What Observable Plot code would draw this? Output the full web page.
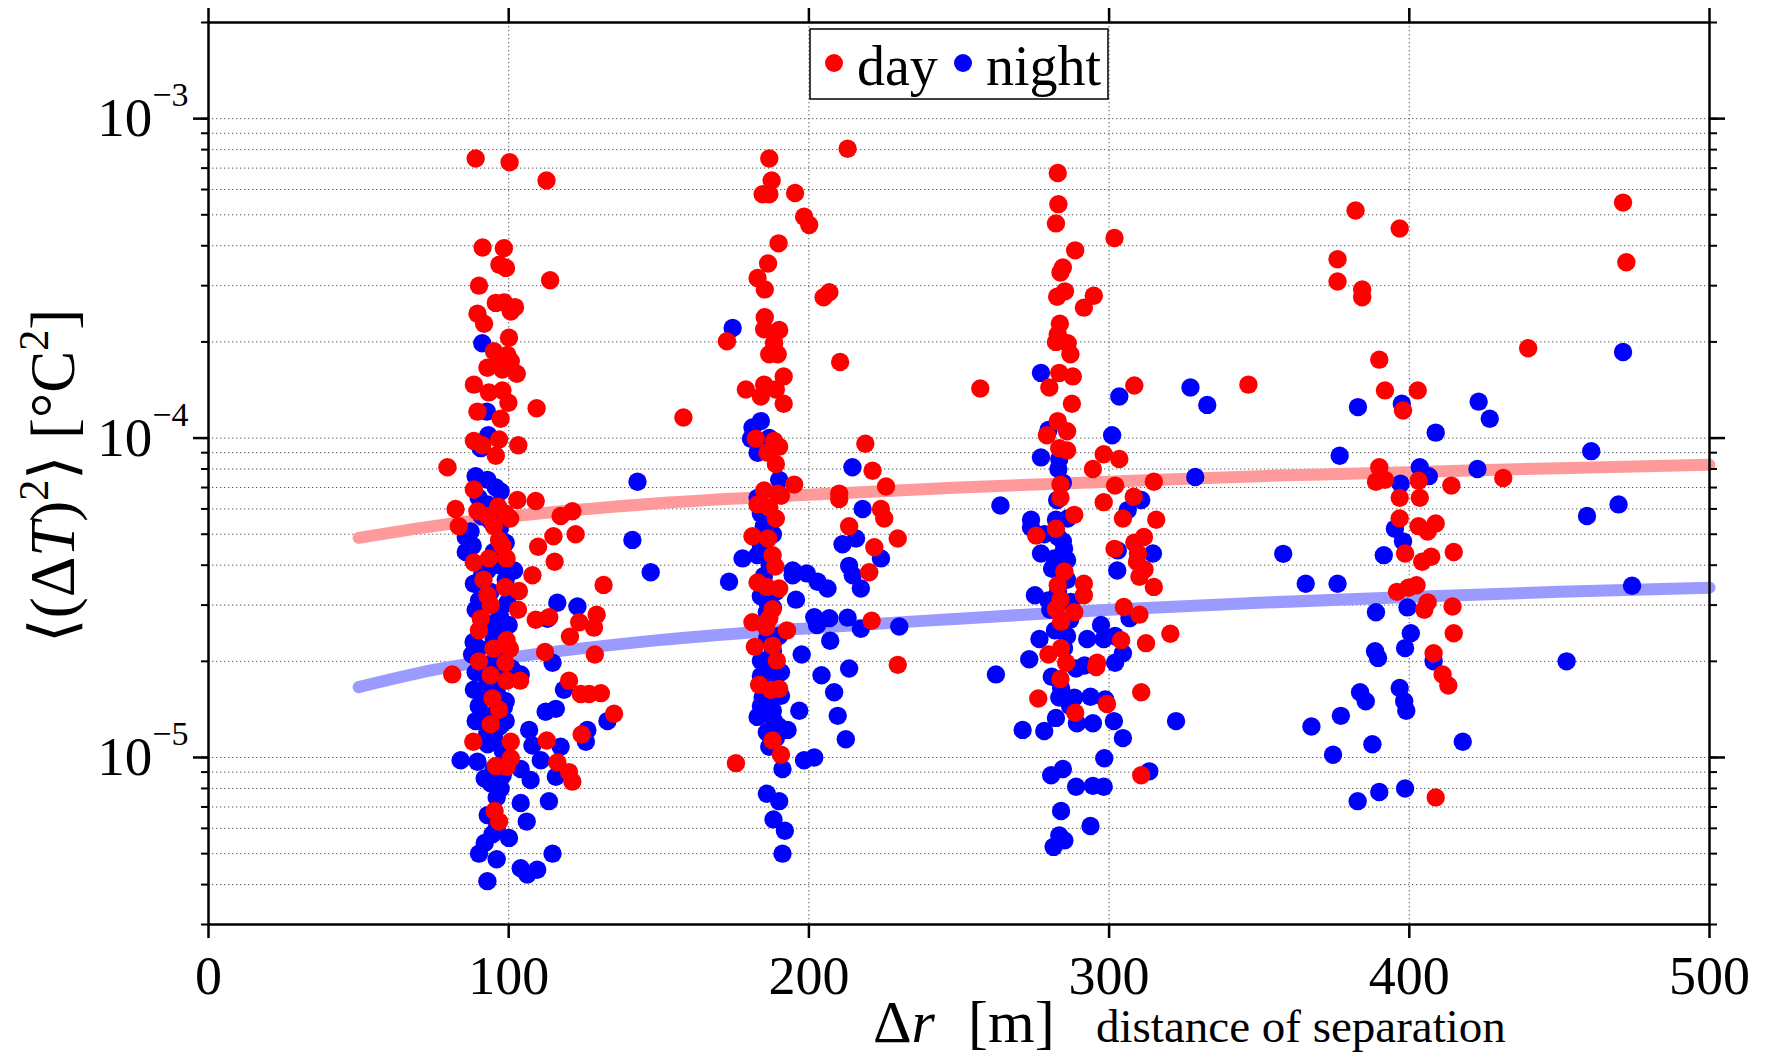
<!DOCTYPE html>
<html><head><meta charset="utf-8">
<script src="https://cdn.jsdelivr.net/npm/d3@7"></script>
<script src="https://cdn.jsdelivr.net/npm/@observablehq/plot@0.6"></script>
<style>
html,body{margin:0;padding:0;background:#fff;}
#chart{position:relative;width:1768px;height:1057px;}
</style></head><body><div id="chart"></div>
<script>
// [distance of separation (m), <(ΔT)^2> (°C^2)]
const day = [
[89,7.5e-4],[100.3,7.3e-4],[112.6,6.4e-4],[91.3,3.95e-4],[98.4,3.93e-4],[96.9,3.49e-4],[99.1,3.41e-4],[113.8,3.12e-4],[90.1,3.0e-4],[95.7,2.65e-4],[98.4,2.66e-4],[102.1,2.57e-4],[100.7,2.49e-4],[89.6,2.45e-4],[91.8,2.28e-4],[100.1,2.06e-4],[95.1,1.87e-4],[99.6,1.82e-4],[96.8,1.74e-4],[100.7,1.74e-4],[92.9,1.66e-4],[97.9,1.64e-4],[102.7,1.59e-4],[88.4,1.47e-4],[93.4,1.39e-4],[97.9,1.41e-4],[99.9,1.29e-4],[109.3,1.24e-4],[89.6,1.21e-4],[97.3,1.15e-4],[88.4,9.8e-5],[96.8,9.9e-5],[91.2,9.5e-5],[103.2,9.5e-5],[95.7,8.8e-5],[79.6,8.1e-5],[88.4,6.9e-5],[102.9,6.4e-5],[109,6.35e-5],[82.3,6.0e-5],[89.6,5.9e-5],[93,5.7e-5],[96.5,6.1e-5],[99,5.8e-5],[100.5,5.6e-5],[121.2,5.9e-5],[117.3,5.7e-5],
[83.4,5.3e-5],[95.1,5.3e-5],[122.3,5.0e-5],[114.9,4.93e-5],[109.8,4.57e-5],[96.8,4.79e-5],[97.9,4.6e-5],[88.4,4.08e-5],[93.4,4.2e-5],[99.3,4.2e-5],[115.3,4.1e-5],[107.9,3.72e-5],[91.6,3.6e-5],[131.6,3.47e-5],[98.8,3.41e-5],[103.4,3.32e-5],[92.9,3.22e-5],[94,3.0e-5],[103.1,2.9e-5],[90.7,2.72e-5],[90.1,2.5e-5],[109,2.7e-5],[113.5,2.75e-5],[123.5,2.65e-5],[129.3,2.8e-5],[128.4,2.55e-5],[120.4,2.39e-5],[99.3,2.33e-5],[94.9,2.19e-5],[100.4,2.19e-5],[112.1,2.14e-5],[128.7,2.1e-5],[90.1,2.0e-5],[98.9,1.98e-5],[81.2,1.82e-5],[94,1.81e-5],[99.3,1.74e-5],[103.8,1.74e-5],[120.1,1.74e-5],[124,1.58e-5],[126.8,1.58e-5],[130.7,1.59e-5],[94.6,1.53e-5],[96.8,1.41e-5],[135.1,1.37e-5],[94,1.27e-5],[124.3,1.18e-5],[88.2,1.12e-5],[100.7,1.12e-5],[112.7,1.13e-5],[116.2,9.65e-6],[95.7,9.4e-6],[99.3,9.35e-6],[100.7,9.95e-6],[120.1,9.0e-6],[121.2,8.4e-6],[95.3,6.8e-6],[96.8,6.3e-6],
[212.9,8.05e-4],[186.8,7.5e-4],[187.6,6.4e-4],[184.6,5.8e-4],[186.8,5.8e-4],[195.4,5.85e-4],[198.4,4.93e-4],[200.1,4.65e-4],[189.9,4.07e-4],[186.4,3.52e-4],[182.9,3.17e-4],[185.3,2.92e-4],[206.8,2.86e-4],[204.9,2.76e-4],[185.3,2.39e-4],[185.1,2.19e-4],[190.1,2.18e-4],[188.4,1.98e-4],[172.7,2.01e-4],[186.8,1.83e-4],[189.6,1.83e-4],[210.4,1.73e-4],[191.6,1.56e-4],[179,1.42e-4],[185.1,1.47e-4],[189,1.42e-4],[184,1.35e-4],[191.6,1.28e-4],[158.2,1.16e-4],[182.3,9.95e-5],[188.4,9.8e-5],[190.1,9.4e-5],[186.2,9.0e-5],[189,8.3e-5],[218.8,9.6e-5],[221.2,7.9e-5],[225.7,7.05e-5],[195.1,7.15e-5],[210.1,6.7e-5],[210.1,6.45e-5],[185.1,6.85e-5],[189.6,6.7e-5],[182.9,6.2e-5],[186.8,6.05e-5],[190.7,6.6e-5],[224,6.0e-5],
[189,5.6e-5],[213.4,5.3e-5],[225.1,5.6e-5],[181.2,4.93e-5],[186.4,4.85e-5],[229.6,4.85e-5],[221.8,4.55e-5],[187.9,4.3e-5],[188.8,3.96e-5],[220.1,3.8e-5],[182.9,3.53e-5],[186,3.42e-5],[190.1,3.38e-5],[187.9,2.91e-5],[186.8,2.73e-5],[181.2,2.65e-5],[185.7,2.56e-5],[192.7,2.5e-5],[220.9,2.68e-5],[182,2.22e-5],[187.9,2.24e-5],[189.3,2.01e-5],[229.6,1.95e-5],[183.4,1.69e-5],[187.3,1.63e-5],[190.1,1.64e-5],[187.9,1.13e-5],[190.7,1.02e-5],[175.7,9.6e-6],
[282.9,6.76e-4],[283.1,5.4e-4],[282.3,4.7e-4],[301.8,4.23e-4],[288.7,3.87e-4],[284.6,3.42e-4],[283.8,3.3e-4],[285.3,2.88e-4],[282.7,2.77e-4],[294.9,2.79e-4],[291.6,2.56e-4],[283.6,2.28e-4],[282.9,2.11e-4],[282.3,2.0e-4],[286.2,1.98e-4],[287.1,1.83e-4],[283.4,1.6e-4],[287.9,1.56e-4],[280.1,1.44e-4],[257.1,1.43e-4],[308.4,1.46e-4],[346.4,1.47e-4],[287.6,1.28e-4],[282.9,1.13e-4],[286,1.05e-4],[279.3,1.02e-4],[283.4,9.3e-5],[286,9.15e-5],[298.2,8.9e-5],[303.4,8.6e-5],[294.6,8.0e-5],[283.8,7.15e-5],[302,7.1e-5],[314.9,7.3e-5],[283.8,6.5e-5],[308.2,6.55e-5],[298.2,6.3e-5],[288.4,5.75e-5],[304.6,5.6e-5],[315.7,5.55e-5],
[282.3,5.2e-5],[275.7,4.95e-5],[308.4,4.7e-5],[311.6,4.9e-5],[301.8,4.5e-5],[309.6,4.35e-5],[309.3,4.1e-5],[311.8,3.88e-5],[310.1,3.68e-5],[314.9,3.42e-5],[285.1,3.82e-5],[282.9,3.46e-5],[291.6,3.5e-5],[291.6,3.22e-5],[283.8,3.12e-5],[282.3,2.91e-5],[288.4,2.85e-5],[284,2.66e-5],[304.9,2.96e-5],[310.1,2.8e-5],[320.4,2.44e-5],[304,2.33e-5],[312.3,2.28e-5],[284,2.2e-5],[279.8,2.1e-5],[285.7,1.98e-5],[296,1.98e-5],[295.7,1.92e-5],[283.8,1.76e-5],[310.7,1.6e-5],[276.4,1.53e-5],[299.3,1.47e-5],[288.7,1.38e-5],[310.7,8.8e-6],
[382.1,5.16e-4],[396.8,4.53e-4],[376.1,3.63e-4],[376.1,3.09e-4],[384.3,2.92e-4],[384.3,2.76e-4],[390,1.76e-4],[391.9,1.41e-4],[402.8,1.41e-4],[397.9,1.22e-4],[390,8.1e-5],[391.9,7.4e-5],[388.9,7.3e-5],[403.1,7.35e-5],[414,7.1e-5],[396.8,6.5e-5],[403.5,6.5e-5],[396.8,5.6e-5],[403.1,5.3e-5],[408.8,5.4e-5],[406.1,5.1e-5],[398.6,4.35e-5],[407.3,4.25e-5],[414.8,4.4e-5],[404.3,4.1e-5],[402.4,3.46e-5],[399.7,3.4e-5],[395.9,3.3e-5],[406.1,3.06e-5],[405,2.9e-5],[414.4,2.97e-5],[414.8,2.45e-5],[408.1,2.12e-5],[411.1,1.82e-5],[413,1.68e-5],[408.8,7.5e-6],[431.3,7.5e-5],[439.6,1.91e-4],[471.2,5.46e-4],[472.3,3.55e-4]
];
const night = [
[91.2,1.98e-4],[92.7,1.21e-4],[93.2,1.02e-4],[90.7,9.3e-5],[142.9,7.3e-5],[89,7.6e-5],[92.9,7.4e-5],[95.7,7.0e-5],[97.3,6.8e-5],
[141.2,4.8e-5],[147.3,3.8e-5],[85.7,4.4e-5],[85.7,4.9e-5],[88.4,3.5e-5],[101.8,3.85e-5],[90.1,3.1e-5],[116.2,3.05e-5],[122.9,2.97e-5],[112.9,2.72e-5],[88.3,2.3e-5],[87.8,2.1e-5],[96.8,2.5e-5],[114.6,1.98e-5],[104,1.82e-5],[88.4,1.63e-5],[96.2,1.58e-5],[118.4,1.63e-5],[112.3,1.39e-5],[115.7,1.42e-5],[89,1.3e-5],[99,1.3e-5],[132.9,1.3e-5],[106.8,1.22e-5],[126.2,1.22e-5],[125.7,1.12e-5],[107.9,1.09e-5],[117.3,1.08e-5],[95.1,1.16e-5],[84,9.8e-6],[89.6,9.7e-6],[104,9.2e-6],[110.7,9.8e-6],[107.3,8.5e-6],[94,8.3e-6],[97.3,8.0e-6],[115.7,8.7e-6],[104,7.2e-6],[113.4,7.3e-6],[106,6.3e-6],[94.6,5.75e-6],[100.1,5.6e-6],[90.1,5.0e-6],[96,4.8e-6],[114.6,5.0e-6],[104,4.5e-6],[109.5,4.45e-6],[106.2,4.3e-6],[92.9,4.1e-6],[87.3,5.1e-5],[92.9,3.85e-5],[99.6,3.05e-5],[94,2.55e-5],[98.4,1.9e-5],[92.9,1.74e-5],[98.4,1.44e-5],[92.9,1.19e-5],
[90,6.5e-5],[93,6.2e-5],[96,6.0e-5],[91,5.7e-5],[94,5.5e-5],[97,5.2e-5],[99,4.7e-5],[88,4.6e-5],[95,4.4e-5],[97,4.0e-5],[91,3.7e-5],[99,3.6e-5],[94,3.3e-5],[89,2.9e-5],[97,2.8e-5],[92,2.65e-5],[100,2.6e-5],[95,2.35e-5],[90,2.2e-5],[97,2.05e-5],[93,1.95e-5],[101,1.9e-5],[89,1.85e-5],[96,1.7e-5],[92,1.55e-5],[99,1.5e-5],[94,1.35e-5],[90,1.45e-5],[97,1.25e-5],[93,1.1e-5],[98,1.05e-5],[95,9.2e-6],[92,8.6e-6],[98,8.8e-6],[96,7.5e-6],[93,6.6e-6],[96,6.0e-6],[92,5.4e-6],
[174.6,2.21e-4],[184,1.13e-4],[181.2,1.08e-4],[180.7,9.95e-5],[182.9,9.0e-5],[186.8,1.0e-4],[190.1,7.4e-5],[214.5,8.1e-5],[217.9,6.0e-5],[182.9,6.5e-5],[184,5.8e-5],
[185.7,5.6e-5],[211.2,4.65e-5],[215.7,4.85e-5],[177.9,4.2e-5],[182.9,4.3e-5],[173.4,3.55e-5],[194.6,3.85e-5],[194.6,3.72e-5],[199.3,3.77e-5],[202.9,3.55e-5],[206.2,3.38e-5],[213.4,3.98e-5],[214.6,3.72e-5],[224,4.2e-5],[217.3,3.38e-5],[195.7,3.12e-5],[186.2,3.05e-5],[201.8,2.75e-5],[206.8,2.73e-5],[202.7,2.6e-5],[212.9,2.74e-5],[217.3,2.53e-5],[230.1,2.57e-5],[207.1,2.32e-5],[197.6,2.1e-5],[184,2.01e-5],[190.7,1.85e-5],[213.4,1.9e-5],[204.2,1.81e-5],[208.4,1.6e-5],[184.6,1.54e-5],[190.7,1.56e-5],[196.8,1.4e-5],[182.9,1.34e-5],[209.6,1.35e-5],[192.9,1.22e-5],[188.4,1.3e-5],[212.3,1.14e-5],[186.8,1.08e-5],[198.4,9.8e-6],[201.8,1.0e-5],[191.2,9.2e-6],[186,7.7e-6],[190.1,7.3e-6],[188.2,6.4e-6],[192,5.9e-6],[191.2,5.0e-6],[186.2,1.45e-5],[187.3,1.87e-5],
[185,5.3e-5],[188,5.0e-5],[184,4.6e-5],[187,4.0e-5],[185,3.7e-5],[189,3.3e-5],[184,3.2e-5],[188,2.95e-5],[186,2.85e-5],[190,2.4e-5],[186,2.35e-5],[188,2.15e-5],[184,1.8e-5],[187,1.7e-5],[189,1.6e-5],[184,1.45e-5],[188,1.4e-5],[190,1.25e-5],[186,1.2e-5],[189,1.15e-5],
[277.3,1.6e-4],[303.4,1.35e-4],[327.1,1.44e-4],[332.7,1.27e-4],[279.8,1.06e-4],[301,1.02e-4],[277.3,8.7e-5],[283.4,8.6e-5],[283.1,8.0e-5],[284.6,7.25e-5],[328.7,7.55e-5],[263.8,6.15e-5],[282.7,6.4e-5],[310.7,6.4e-5],[306.2,5.95e-5],[274,5.55e-5],[282.3,5.55e-5],[286.2,5.6e-5],
[274,5.25e-5],[278.4,5.0e-5],[284.6,4.75e-5],[277.3,4.35e-5],[281.8,4.2e-5],[286,4.15e-5],[302.9,4.45e-5],[314.6,4.35e-5],[302.7,3.85e-5],[275.3,3.22e-5],[279.8,3.1e-5],[287.3,3.07e-5],[280.4,2.9e-5],[306.8,2.73e-5],[276.8,2.35e-5],[286,2.4e-5],[292.7,2.35e-5],[297.3,2.6e-5],[298.2,2.35e-5],[302,2.4e-5],[304.6,2.12e-5],[273.4,2.03e-5],[262.3,1.82e-5],[291.8,1.94e-5],[302,1.98e-5],[280.9,1.79e-5],[283.4,1.54e-5],[288.4,1.54e-5],[293.8,1.55e-5],[298.7,1.52e-5],[282.3,1.33e-5],[289.3,1.28e-5],[294.6,1.28e-5],[271.2,1.22e-5],[278.4,1.21e-5],[301.6,1.3e-5],[304.6,1.15e-5],[322.3,1.3e-5],[298.4,9.95e-6],[284.6,9.2e-6],[280.7,8.8e-6],[289,8.1e-6],[294.6,8.15e-6],[298.2,8.1e-6],[313.4,9.05e-6],[284,6.8e-6],[293.8,6.1e-6],[283.4,5.7e-6],[281.5,5.25e-6],[285.1,5.5e-6],
[283,4.9e-5],[285,4.5e-5],[281,3.9e-5],[286,3.6e-5],[283,3.3e-5],[287,2.7e-5],[282,2.5e-5],[285,2.2e-5],[289,1.9e-5],[284,1.65e-5],[287,1.45e-5],
[382.9,1.25e-4],[397.5,1.28e-4],[376.8,8.8e-5],[397.1,7.2e-5],[403.5,8.1e-5],[406.5,7.6e-5],[395.2,5.2e-5],[397.9,4.75e-5],[391.5,4.3e-5],[358,4.34e-5],[365.5,3.5e-5],[376.1,3.5e-5],[388.9,2.85e-5],[399.4,2.95e-5],[400.5,2.45e-5],[398.6,2.2e-5],[388.6,2.15e-5],[389.6,2.05e-5],[383.6,1.6e-5],[385.5,1.5e-5],[396.8,1.65e-5],[398.3,1.5e-5],[399,1.4e-5],[377.2,1.35e-5],[367.4,1.25e-5],[374.6,1.02e-5],[387.7,1.1e-5],[398.6,8.0e-6],[390,7.8e-6],[382.8,7.3e-6],[408.1,2.0e-5],[408.8,1.04e-4],[423.1,1.3e-4],[426.8,1.15e-4],[422.7,8.0e-5],[460.6,9.1e-5],[469.7,6.2e-5],[459.2,5.7e-5],[474.2,3.45e-5],[452.4,2.0e-5],[471.2,1.86e-4],[417.8,1.12e-5]
];
// fitted curves
const fitDist  = [50, 75, 100, 150, 200, 250, 300, 350, 400, 450, 500];
const fitDay   = [4.87e-5, 5.3e-5, 5.67e-5, 6.25e-5, 6.65e-5, 7.0e-5, 7.3e-5, 7.6e-5, 7.82e-5, 8.05e-5, 8.25e-5];
const fitNight = [1.66e-5, 1.88e-5, 2.05e-5, 2.33e-5, 2.54e-5, 2.72e-5, 2.9e-5, 3.05e-5, 3.18e-5, 3.3e-5, 3.4e-5];
// axes
const xTicks = [0, 100, 200, 300, 400, 500];
const xGrid = [100, 200, 300, 400];
const yMajor = [1e-5, 1e-4, 1e-3];
const yMinor = [3e-6,4e-6,5e-6,6e-6,7e-6,8e-6,9e-6,
  1e-5,2e-5,3e-5,4e-5,5e-5,6e-5,7e-5,8e-5,9e-5,
  1e-4,2e-4,3e-4,4e-4,5e-4,6e-4,7e-4,8e-4,9e-4,1e-3,2e-3];
const yGrid = yMinor.filter(v => v > 3e-6 && v < 2e-3);
const legendLabels = ["day", "night"];
const legendColors = ["#ff0000", "#0000ff"];

const FONT = '"Liberation Serif","Times New Roman",Times,serif';
const dayRows = day.map(([d, v]) => ({d, v}));
const nightRows = night.map(([d, v]) => ({d, v}));
const fitRows = fitDist.map((d, i) => ({d, day: fitDay[i], night: fitNight[i]}));
const dotted = {stroke: "#555", strokeWidth: 1, strokeDasharray: "1.3,2.7"};

const chart = Plot.plot({
  width: 1768, height: 1057,
  marginLeft: 208, marginRight: 59, marginTop: 22, marginBottom: 133,
  style: {fontFamily: FONT, background: "white", color: "black", overflow: "visible"},
  x: {domain: [0, 500]},
  y: {type: "log", domain: [3e-6, 2e-3]},
  marks: [
    Plot.ruleY(yGrid, dotted),
    Plot.ruleX(xGrid, dotted),
    Plot.line(fitRows, {x: "d", y: "day", stroke: "#ff9a9a", strokeWidth: 12, curve: "monotone-x"}),
    Plot.line(fitRows, {x: "d", y: "night", stroke: "#9a9aff", strokeWidth: 12, curve: "monotone-x"}),
    Plot.dot(nightRows, {x: "d", y: "v", r: 9.2, fill: legendColors[1]}),
    Plot.dot(dayRows, {x: "d", y: "v", r: 9.2, fill: legendColors[0]}),
    Plot.axisX(xTicks, {anchor: "bottom", tickSize: 14, tickPadding: 17, fontSize: 54, label: null, tickFormat: d => String(d), strokeWidth: 2.5}),
    Plot.axisX(xTicks, {anchor: "top", tickSize: 15, label: null, tickFormat: () => "", strokeWidth: 2.5}),
    Plot.axisY(yMajor, {anchor: "left", tickSize: 15, tickPadding: 5, fontSize: 55, label: null, tickFormat: d => String(Math.round(Math.log10(d))), strokeWidth: 2.5}),
    Plot.axisY(yMinor, {anchor: "left", tickSize: 7, label: null, tickFormat: () => "", strokeWidth: 2}),
    Plot.axisY(yMajor, {anchor: "right", tickSize: 15, label: null, tickFormat: () => "", strokeWidth: 2.5}),
    Plot.axisY(yMinor, {anchor: "right", tickSize: 7, label: null, tickFormat: () => "", strokeWidth: 2}),
    Plot.frame({stroke: "black", strokeWidth: 2.5})
  ]
});
document.getElementById("chart").appendChild(chart);

const svg = d3.select(chart);
// superscript exponents on the y tick labels
svg.selectAll('g[aria-label="y-axis tick label"] text').each(function() {
  const t = d3.select(this);
  const s = t.text();
  if (!s) return;
  t.text("");
  t.append("tspan").text("10");
  t.append("tspan").attr("dy", -30).attr("font-size", "34px").text(s.replace("-", "\u2212"));
});

// y axis label
const yl = svg.append("text")
  .attr("transform", "translate(74,476) rotate(-90)")
  .attr("text-anchor", "middle").attr("font-family", FONT).attr("font-size", 63).attr("fill", "black");
yl.append("tspan").text("\u27E8(\u0394");
yl.append("tspan").attr("font-style", "italic").text("T");
yl.append("tspan").text(")");
yl.append("tspan").attr("dy", -26).attr("font-size", 42).text("2");
yl.append("tspan").attr("dy", 26).text("\u27E9 [\u00B0C");
yl.append("tspan").attr("dy", -26).attr("font-size", 42).text("2");
yl.append("tspan").attr("dy", 26).text("]");

// x axis label
const xl = svg.append("text").attr("x", 873).attr("y", 1042).attr("text-anchor", "start")
  .attr("font-family", FONT).attr("font-size", 60).attr("fill", "black");
xl.append("tspan").text("\u0394");
xl.append("tspan").attr("font-style", "italic").text("r");
xl.append("tspan").attr("x", 968).text("[m]");
svg.append("text").attr("x", 1096).attr("y", 1042).attr("text-anchor", "start")
  .attr("font-family", FONT).attr("font-size", 47).attr("fill", "black")
  .text("distance of separation");

// legend
const lg = svg.append("g");
lg.append("rect").attr("x", 810).attr("y", 29).attr("width", 298).attr("height", 70)
  .attr("fill", "white").attr("stroke", "black").attr("stroke-width", 1.5);
const legX = [834, 963];
legendLabels.forEach((lab, i) => {
  lg.append("circle").attr("cx", legX[i]).attr("cy", 63).attr("r", 9).attr("fill", legendColors[i]);
  lg.append("text").attr("x", legX[i] + 23).attr("y", 85).attr("text-anchor", "start")
    .attr("font-family", FONT).attr("font-size", 56).attr("fill", "black").text(lab);
});
</script>
</body></html>
